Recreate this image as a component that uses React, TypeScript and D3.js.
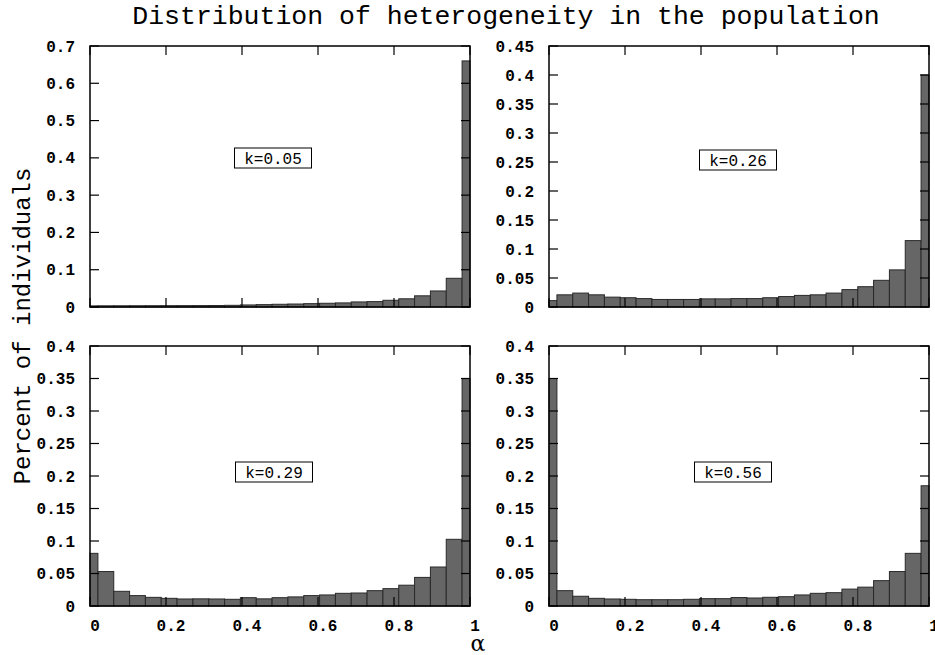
import React from "react";
import * as d3 from "d3";

const W = 935;
const H = 655;

const binCenters = [0, 0.04167, 0.08333, 0.125, 0.16667, 0.20833, 0.25, 0.29167, 0.33333, 0.375, 0.41667, 0.45833, 0.5, 0.54167, 0.58333, 0.625, 0.66667, 0.70833, 0.75, 0.79167, 0.83333, 0.875, 0.91667, 0.95833, 1];
const binWidth = 0.041667;

const seriesK005 = [0.003, 0.0032, 0.0033, 0.0034, 0.0035, 0.0036, 0.0037, 0.0038, 0.004, 0.0045, 0.0055, 0.0064, 0.0073, 0.008, 0.009, 0.01, 0.011, 0.0136, 0.0145, 0.018, 0.022, 0.03, 0.043, 0.077, 0.66];
const seriesK026 = [0.011, 0.021, 0.024, 0.021, 0.017, 0.016, 0.0145, 0.013, 0.013, 0.013, 0.014, 0.014, 0.0145, 0.0145, 0.016, 0.018, 0.02, 0.021, 0.024, 0.03, 0.035, 0.046, 0.064, 0.1145, 0.4];
const seriesK029 = [0.081, 0.053, 0.0226, 0.016, 0.0133, 0.0118, 0.0108, 0.011, 0.0108, 0.0103, 0.0128, 0.011, 0.0128, 0.014, 0.016, 0.017, 0.0195, 0.02, 0.0236, 0.0267, 0.032, 0.044, 0.06, 0.1026, 0.35];
const seriesK056 = [0.35, 0.0236, 0.015, 0.0118, 0.0108, 0.0103, 0.0097, 0.0097, 0.0097, 0.0103, 0.0113, 0.0113, 0.013, 0.0123, 0.0134, 0.0143, 0.017, 0.0195, 0.0205, 0.026, 0.029, 0.039, 0.053, 0.081, 0.185];

const panelLabels = ["k=0.05", "k=0.26", "k=0.29", "k=0.56"];
const yMaxes = [0.7, 0.45, 0.4, 0.4];
const yTickSteps = [0.1, 0.05, 0.05, 0.05];
const xTickValues = [0, 0.2, 0.4, 0.6, 0.8, 1];
const xTickLabels = ["0", "0.2", "0.4", "0.6", "0.8", "1"];

const titleText = "Distribution of heterogeneity in the population";
const yAxisTitle = "Percent of individuals";
const xAxisTitle = "α";

// layout
const panels = [
  { x0: 90, x1: 470, y0: 46, y1: 307, data: seriesK005, lx: 183, ly: 158, xLabels: false },
  { x0: 549, x1: 929, y0: 46, y1: 307, data: seriesK026, lx: 189, ly: 160, xLabels: false },
  { x0: 90, x1: 470, y0: 346, y1: 606, data: seriesK029, lx: 184, ly: 472, xLabels: true },
  { x0: 549, x1: 929, y0: 346, y1: 606, data: seriesK056, lx: 184, ly: 472, xLabels: true },
];

const MONO = "'Liberation Mono', 'DejaVu Sans Mono', monospace";
const TICK = 9;

function fmt(v: number) {
  return String(+v.toFixed(2));
}

function Panel({ p, idx }: { p: typeof panels[number]; idx: number }) {
  const x = d3.scaleLinear().domain([0, 1]).range([p.x0, p.x1]);
  const y = d3.scaleLinear().domain([0, yMaxes[idx]]).range([p.y1, p.y0]);
  const step = yTickSteps[idx];
  const n = Math.round(yMaxes[idx] / step);
  const yTicks = d3.range(n + 1).map((i) => +(i * step).toFixed(3));
  const boxW = 77;
  const boxH = 20;
  return (
    <g>
      {p.data.map((v, i) => {
        const c = binCenters[i];
        const a = Math.max(0, c - binWidth / 2);
        const b = Math.min(1, c + binWidth / 2);
        return (
          <rect
            key={i}
            x={x(a)}
            y={y(v)}
            width={x(b) - x(a)}
            height={y(0) - y(v)}
            fill="#666666"
            stroke="#2a2a2a"
            strokeWidth={1}
          />
        );
      })}
      {yTicks.map((t, i) => (
        <g key={"y" + i}>
          <line x1={p.x0} x2={p.x0 + TICK} y1={y(t)} y2={y(t)} stroke="#000" strokeWidth={1.2} />
          <line x1={p.x1} x2={p.x1 - TICK} y1={y(t)} y2={y(t)} stroke="#000" strokeWidth={1.2} />
          <text
            x={p.x0 - 15}
            y={y(t)}
            dy="0.35em"
            textAnchor="end"
            fontFamily={MONO}
            fontWeight="bold"
            fontSize={16}
            fill="#000"
          >
            {fmt(t)}
          </text>
        </g>
      ))}
      {xTickValues.map((t, i) => (
        <g key={"x" + i}>
          <line x1={x(t)} x2={x(t)} y1={p.y1} y2={p.y1 - TICK} stroke="#000" strokeWidth={1.2} />
          <line x1={x(t)} x2={x(t)} y1={p.y0} y2={p.y0 + TICK} stroke="#000" strokeWidth={1.2} />
          {p.xLabels && (
            <text
              x={x(t) + 5}
              y={p.y1 + 25}
              textAnchor="middle"
              fontFamily={MONO}
              fontWeight="bold"
              fontSize={16}
              fill="#000"
            >
              {xTickLabels[i]}
            </text>
          )}
        </g>
      ))}
      <rect
        x={p.x0}
        y={p.y0}
        width={p.x1 - p.x0}
        height={p.y1 - p.y0}
        fill="none"
        stroke="#000"
        strokeWidth={1.5}
      />
      <rect
        x={p.x0 + p.lx - boxW / 2}
        y={p.ly - boxH / 2}
        width={boxW}
        height={boxH}
        fill="#fff"
        stroke="#000"
        strokeWidth={1}
      />
      <text
        x={p.x0 + p.lx}
        y={p.ly}
        dy="0.35em"
        textAnchor="middle"
        fontFamily={MONO}
        fontSize={16}
        fill="#000"
      >
        {panelLabels[idx]}
      </text>
    </g>
  );
}

export default function App() {
  return (
    <svg
      width={W}
      height={H}
      viewBox={`0 0 ${W} ${H}`}
      style={{ position: "absolute", left: 0, top: 0, background: "#fff" }}
    >
      <rect x={0} y={0} width={W} height={H} fill="#fff" />
      <text x={506} y={24} textAnchor="middle" fontFamily={MONO} fontSize={26.5} fill="#000">
        {titleText}
      </text>
      {panels.map((p, i) => (
        <Panel key={i} p={p} idx={i} />
      ))}
      <text
        transform={`translate(22, 326) rotate(-90)`}
        textAnchor="middle"
        dy="0.35em"
        fontFamily={MONO}
        fontSize={24}
        fill="#000"
      >
        {yAxisTitle}
      </text>
      <text x={478} y={651} textAnchor="middle" fontFamily="'DejaVu Serif', serif" fontSize={22} fill="#000">
        {xAxisTitle}
      </text>
    </svg>
  );
}
